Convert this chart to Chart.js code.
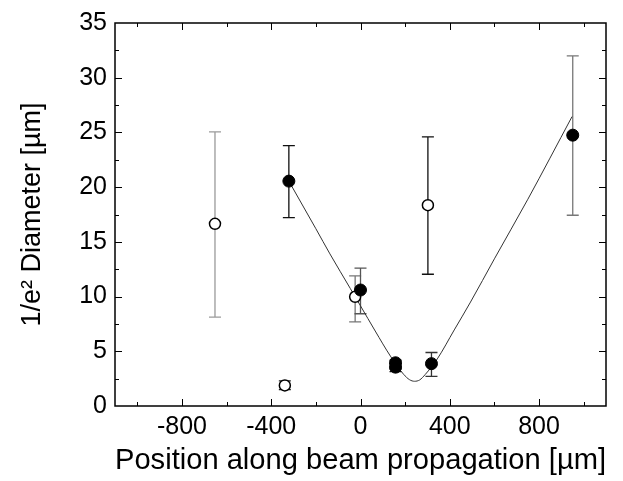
<!DOCTYPE html>
<html>
<head>
<meta charset="utf-8">
<script src="https://cdn.jsdelivr.net/npm/chart.js@4.4.1/dist/chart.umd.min.js"></script>
<style>
  html, body { margin: 0; padding: 0; background: #fff; }
  #beam { display: block; }
</style>
</head>
<body>
<canvas id="beam" width="623" height="481"></canvas>
<script>
// open circles (measurement set 1)
var openX = [-652, -339, -24, 302];
var openY = [16.65, 1.88, 9.98, 18.35];
var openLow = [8.13, 1.5, 7.69, 12.04];
var openHigh = [25.05, 2.3, 11.9, 24.6];
var openBarColor = ['#9a9a9a', '#222', '#777', '#111'];

// filled circles (measurement set 2)
var filledX = [-321, 0, 157, 157, 318, 951];
var filledY = [20.55, 10.6, 3.95, 3.55, 3.87, 24.75];
var filledLow = [17.22, 8.43, 3.4, 3.15, 2.71, 17.43];
var filledHigh = [23.8, 12.6, 4.2, 3.9, 4.89, 32.0];
var filledBarColor = ['#111', '#555', '#111', '#111', '#333', '#777'];

// fitted beam curve
var fitX = [-321, -200, -137, -46, 0, 66, 134, 193, 220, 242, 265, 290, 344, 420, 493, 600, 750, 948];
var fitY = [20.55, 16.2, 13.9, 10.75, 9.15, 6.85, 4.56, 2.9, 2.4, 2.26, 2.38, 2.88, 4.3, 6.95, 9.5, 13.45, 18.9, 26.45];

var xTicks = [-800, -400, 0, 400, 800];
var yTicks = [0, 5, 10, 15, 20, 25, 30, 35];

function pts(xs, ys) {
    return xs.map(function (v, i) { return { x: v, y: ys[i] }; });
}

var errBars = {
    id: 'errBars',
    beforeDatasetsDraw: function (chart) {
        var ctx = chart.ctx, x = chart.scales.x, y = chart.scales.y;
        function bars(xs, lo, hi, cols) {
            xs.forEach(function (v, i) {
                var px = x.getPixelForValue(v);
                var y1 = y.getPixelForValue(lo[i]), y2 = y.getPixelForValue(hi[i]);
                ctx.strokeStyle = cols[i];
                ctx.lineWidth = 1.3;
                ctx.beginPath();
                ctx.moveTo(px, y1); ctx.lineTo(px, y2);
                ctx.moveTo(px - 6, y1); ctx.lineTo(px + 6, y1);
                ctx.moveTo(px - 6, y2); ctx.lineTo(px + 6, y2);
                ctx.stroke();
            });
        }
        ctx.save();
        bars(openX, openLow, openHigh, openBarColor);
        bars(filledX, filledLow, filledHigh, filledBarColor);
        ctx.restore();
    },
    afterDraw: function (chart) {
        var ctx = chart.ctx, a = chart.chartArea, x = chart.scales.x, y = chart.scales.y;
        ctx.save();
        ctx.strokeStyle = '#000';
        ctx.lineWidth = 1;
        ctx.beginPath();
        for (var v = -1000; v <= 1000; v += 200) {
            var px = Math.round(x.getPixelForValue(v)) + 0.5;
            var len = (v % 400 === 0) ? 7 : 4;
            ctx.moveTo(px, a.bottom); ctx.lineTo(px, a.bottom - len);
            ctx.moveTo(px, a.top); ctx.lineTo(px, a.top + len);
        }
        for (var w = 2.5; w < 35; w += 2.5) {
            var py = Math.round(y.getPixelForValue(w)) + 0.5;
            var l2 = (w % 5 === 0) ? 7 : 4;
            ctx.moveTo(a.left, py); ctx.lineTo(a.left + l2, py);
            ctx.moveTo(a.right, py); ctx.lineTo(a.right - l2, py);
        }
        ctx.stroke();
        ctx.lineWidth = 1.5;
        ctx.strokeRect(a.left, a.top, a.right - a.left, a.bottom - a.top);
        ctx.restore();
    }
};

var font = "'Liberation Sans', Arial, sans-serif";

new Chart(document.getElementById('beam').getContext('2d'), {
    type: 'scatter',
    data: {
        datasets: [{
            label: 'filled',
            data: pts(filledX, filledY),
            pointStyle: 'circle',
            pointRadius: 6,
            backgroundColor: '#000',
            borderColor: '#000',
            borderWidth: 1
        }, {
            label: 'open',
            data: pts(openX, openY),
            pointStyle: 'circle',
            pointRadius: 5.5,
            backgroundColor: '#fff',
            borderColor: '#000',
            borderWidth: 1.5
        }, {
            label: 'fit',
            type: 'line',
            data: pts(fitX, fitY),
            borderColor: '#333',
            borderWidth: 1,
            pointRadius: 0,
            cubicInterpolationMode: 'monotone',
            fill: false
        }]
    },
    options: {
        responsive: false,
        animation: false,
        layout: { padding: { top: 14, right: 17, left: 0, bottom: 0 } },
        plugins: { legend: { display: false }, tooltip: { enabled: false } },
        scales: {
            x: {
                type: 'linear',
                min: -1100, max: 1100,
                grid: { display: false, drawTicks: false },
                border: { display: false },
                afterBuildTicks: function (s) { s.ticks = xTicks.map(function (v) { return { value: v }; }); },
                afterFit: function (s) { s.height = 75; },
                ticks: { color: '#000', padding: 6, maxRotation: 0, font: { family: font, size: 25 } },
                title: {
                    display: true,
                    text: 'Position along beam propagation [µm]',
                    color: '#000',
                    font: { family: font, size: 30 },
                    padding: { top: 0, bottom: 2 }
                }
            },
            y: {
                min: 0, max: 35,
                grid: { display: false, drawTicks: false },
                border: { display: false },
                afterBuildTicks: function (s) { s.ticks = yTicks.map(function (v) { return { value: v }; }); },
                afterFit: function (s) { s.width = 115; },
                ticks: { color: '#000', padding: 8, font: { family: font, size: 25 } },
                title: {
                    display: true,
                    text: '1/e² Diameter [µm]',
                    color: '#000',
                    font: { family: font, size: 27 },
                    padding: { top: 16, bottom: 0 }
                }
            }
        }
    },
    plugins: [errBars]
});
</script>
</body>
</html>
